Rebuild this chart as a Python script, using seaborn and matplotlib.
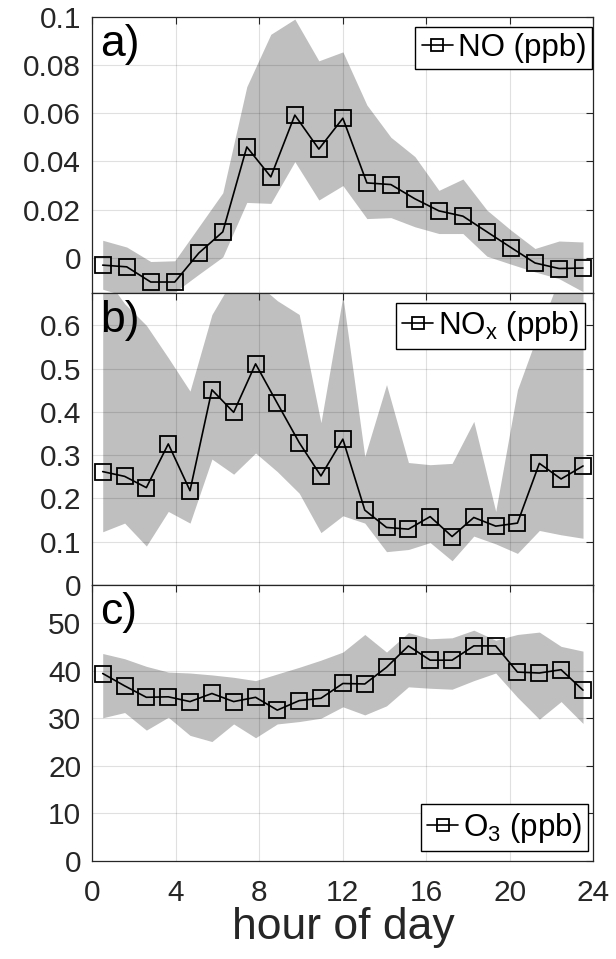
import matplotlib
matplotlib.use("Agg")
import matplotlib.pyplot as plt
import seaborn as sns
import numpy as np
import pandas as pd

# ---------------- data ----------------
hours_no = [0.5, 1.65, 2.8, 3.95, 5.1, 6.25, 7.4, 8.55, 9.7, 10.85, 12.0,
            13.15, 14.3, 15.45, 16.6, 17.75, 18.9, 20.05, 21.2, 22.35, 23.5]
no_mean = [-0.003, -0.0037, -0.010, -0.010, 0.002, 0.0108, 0.046, 0.0336, 0.0592,
           0.0451, 0.0579, 0.0311, 0.0304, 0.0245, 0.0195, 0.0173, 0.0108, 0.0043,
           -0.0021, -0.0044, -0.0042]
no_high = [0.0073, 0.0045, -0.0015, -0.0012, 0.0129, 0.027, 0.071, 0.0927, 0.099,
           0.0817, 0.0854, 0.0634, 0.050, 0.042, 0.028, 0.0327, 0.0198, 0.0115,
           0.0039, 0.007, 0.0066]
no_low = [-0.013, -0.016, -0.0145, -0.0142, -0.0068, 0.0004, 0.023, 0.0226, 0.0399,
          0.024, 0.030, 0.0163, 0.0167, 0.0129, 0.0101, 0.0101, 0.0007, -0.0026,
          -0.0058, -0.0086, -0.014]

hours_23 = [0.5, 1.55, 2.59, 3.64, 4.68, 5.73, 6.77, 7.82, 8.86, 9.91, 10.95, 12.0,
            13.05, 14.09, 15.14, 16.18, 17.23, 18.27, 19.32, 20.36, 21.41, 22.45, 23.5]
nox_mean = [0.262, 0.251, 0.225, 0.326, 0.218, 0.451, 0.399, 0.511, 0.420, 0.329,
            0.252, 0.337, 0.173, 0.133, 0.129, 0.158, 0.112, 0.156, 0.136, 0.143,
            0.281, 0.245, 0.275]
nox_high = [0.72, 0.65, 0.60, 0.525, 0.448, 0.625, 0.71, 0.70, 0.657, 0.625, 0.375,
            0.667, 0.297, 0.463, 0.283, 0.278, 0.281, 0.378, 0.17, 0.451, 0.59,
            0.72, 0.72]
nox_low = [0.123, 0.143, 0.090, 0.170, 0.143, 0.291, 0.256, 0.305, 0.262, 0.212,
           0.121, 0.160, 0.143, 0.077, 0.082, 0.098, 0.056, 0.113, 0.095, 0.073,
           0.126, 0.116, 0.108]

o3_mean = [39.4, 36.8, 34.4, 34.5, 33.5, 35.2, 33.5, 34.4, 31.7, 33.7, 34.2, 37.3,
           37.2, 40.7, 45.2, 42.2, 42.2, 45.2, 45.2, 39.7, 39.5, 40.2, 35.9]
o3_high = [43.6, 42.5, 40.9, 39.7, 39.5, 39.1, 38.6, 37.9, 39.3, 40.7, 42.2, 43.9,
           47.6, 43.9, 48.0, 46.7, 46.9, 48.5, 46.4, 47.6, 48.1, 45.1, 44.1]
o3_low = [30.1, 31.2, 27.5, 30.2, 26.4, 25.1, 28.8, 25.9, 28.8, 29.3, 30.0, 32.4,
          30.7, 32.6, 36.6, 36.3, 36.1, 37.9, 39.5, 34.4, 29.8, 33.5, 28.9]

x_ticks = [0, 4, 8, 12, 16, 20, 24]
a_ticks = [0, 0.02, 0.04, 0.06, 0.08, 0.1]
a_ticklabels = ["0", "0.02", "0.04", "0.06", "0.08", "0.1"]
b_ticks = [0, 0.1, 0.2, 0.3, 0.4, 0.5, 0.6]
b_ticklabels = ["0", "0.1", "0.2", "0.3", "0.4", "0.5", "0.6"]
c_ticks = [0, 10, 20, 30, 40, 50]
c_ticklabels = ["0", "10", "20", "30", "40", "50"]

# ---------------- style ----------------
sns.set_theme(style="white")
plt.rcParams["font.family"] = ["Liberation Sans", "DejaVu Sans"]
plt.rcParams["mathtext.fontset"] = "custom"
plt.rcParams["mathtext.rm"] = "Liberation Sans"
plt.rcParams["mathtext.it"] = "Liberation Sans"

TXT = "#262626"
FILL = "#bfbfbf"
TICK_FS = 21.5
LEG_FS = 22.5
LET_FS = 32

fig = plt.figure(figsize=(6.16, 9.59), dpi=100)
left, width = 0.1498, 0.8136
ax_a = fig.add_axes([left, 0.6946, width, 0.2880])
ax_b = fig.add_axes([left, 0.3900, width, 0.3046])
ax_c = fig.add_axes([left, 0.1022, width, 0.2878])

panels = [
    (ax_a, hours_no, no_mean, no_low, no_high, "NO (ppb)", (-0.0145, 0.1),
     a_ticks, a_ticklabels, "a)", dict(loc="upper right", bbox_to_anchor=(0.998, 0.964))),
    (ax_b, hours_23, nox_mean, nox_low, nox_high, r"NO$_\mathregular{x}$ (ppb)", (0, 0.675),
     b_ticks, b_ticklabels, "b)", dict(loc="upper right", bbox_to_anchor=(0.983, 0.966))),
    (ax_c, hours_23, o3_mean, o3_low, o3_high, r"O$_\mathregular{3}$ (ppb)", (0, 58),
     c_ticks, c_ticklabels, "c)", dict(loc="lower right", bbox_to_anchor=(0.990, 0.037))),
]

for ax, hx, mean, lo, hi, lab, ylim, yt, ytl, letter, legkw in panels:
    ax.fill_between(hx, lo, hi, color=FILL, linewidth=0, zorder=1)
    df = pd.DataFrame({"hour": hx, "value": mean})
    sns.lineplot(data=df, x="hour", y="value", ax=ax, color="black", linewidth=1.2,
                 marker="s", markersize=11, markerfacecolor="none",
                 markeredgecolor="black", markeredgewidth=1.3, label=lab, zorder=4)
    ax.set_xlim(0, 24)
    ax.set_ylim(*ylim)
    ax.set_xticks(x_ticks)
    ax.set_yticks(yt)
    ax.set_yticklabels(ytl)
    ax.grid(True, color="black", alpha=0.12, linewidth=0.8, zorder=2)
    ax.set_axisbelow(False)
    for s in ax.spines.values():
        s.set_color(TXT)
        s.set_linewidth(0.9)
        s.set_zorder(5)
    ax.tick_params(direction="in", top=True, right=True, length=5, width=0.8,
                   color=TXT, labelsize=TICK_FS, labelcolor=TXT, pad=8)
    ax.tick_params(axis="x", pad=13)
    ax.set_xlabel("")
    ax.set_ylabel("")
    ax.text(0.016, 0.975, letter, transform=ax.transAxes, fontsize=LET_FS,
            ha="left", va="top", color="black", zorder=6)
    leg = ax.legend(frameon=True, fancybox=False, edgecolor="black", framealpha=1,
                    fontsize=LEG_FS, handlelength=1.0, handletextpad=0.15,
                    borderpad=0.2, borderaxespad=0, markerscale=0.75, **legkw)
    leg.get_frame().set_linewidth(1.0)
    leg.set_zorder(7)
    for t in leg.get_texts():
        t.set_color("black")

ax_a.tick_params(axis="x", labelbottom=False)
ax_b.tick_params(axis="x", labelbottom=False)
ax_c.set_xticklabels([str(t) for t in x_ticks])
ax_c.set_xlabel("hour of day", fontsize=32, color=TXT, labelpad=0)

fig.savefig("out.png", dpi=100)
